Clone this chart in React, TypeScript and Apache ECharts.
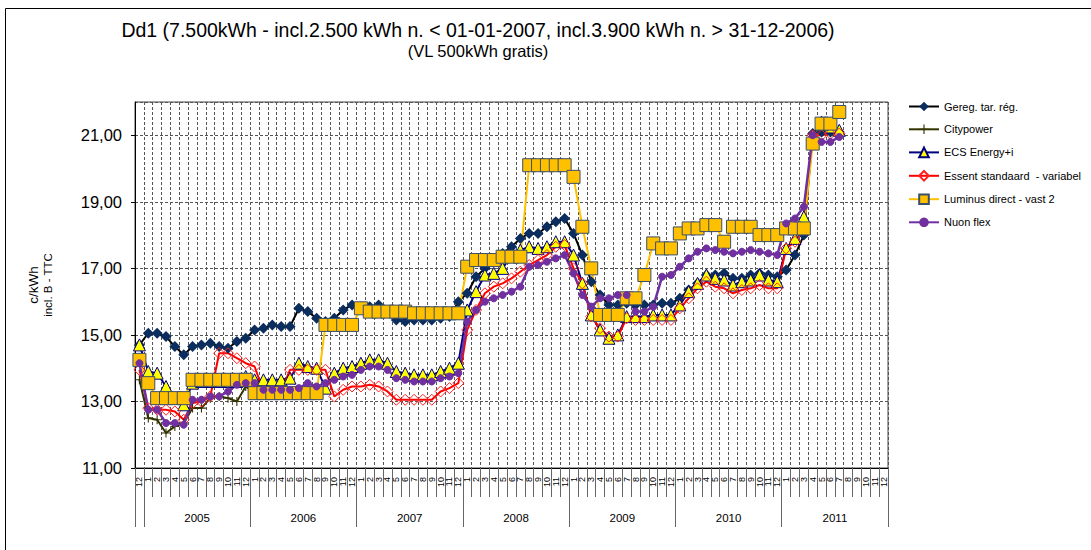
import React, { useEffect, useRef } from "react";
import * as echarts from "echarts";

// ---------- categories ----------
const FIRST_MONTH = "12"; // December 2004
const FIRST_YEAR = "2004";
const YEARS = ["2005", "2006", "2007", "2008", "2009", "2010", "2011"];
const MONTHS = ["1", "2", "3", "4", "5", "6", "7", "8", "9", "10", "11", "12"];

const monthCats: string[] = [FIRST_MONTH];
const yearCats: string[] = [FIRST_YEAR];
YEARS.forEach((y) => MONTHS.forEach((m) => { monthCats.push(m); yearCats.push(y); }));

const _ = null;

// ---------- series values (c/kWh) ----------
const gereg = [
  14.7, 15.05, 15.05, 14.95, 14.65, 14.4, 14.65, 14.7, 14.75, 14.65, 14.6, 14.8, 14.9,
  15.15, 15.2, 15.3, 15.25, 15.25, 15.8, 15.7, 15.5, 15.4, 15.5, 15.75, 15.9,
  15.85, 15.85, 15.9, 15.7, 15.45, 15.4, 15.45, 15.45, 15.45, 15.5, 15.55, 16.0,
  16.25, 16.75, 17.0, 17.25, 17.45, 17.65, 17.9, 18.05, 18.05, 18.25, 18.4, 18.5,
  18.05, 17.4, 16.6, 16.2, 15.9, 15.9, 15.95, 15.9, 15.9, 15.9, 15.95, 15.95,
  16.1, 16.35, 16.55, 16.8, 16.8, 16.85, 16.7, 16.7, 16.8, 16.85, 16.8, 16.75,
  16.95, 17.4, 18.0, 21.05, 21.1, 21.1, 21.1, _, _, _, _, _,
];

const citypower = [
  13.65, 12.5, 12.45, 12.05, 12.25, 12.35, 12.8, 12.8, 13.1, 13.15, 13.1, 13.0, 13.45,
  13.25, 13.25, 13.25, 13.25, 13.25, 13.25, 13.25, 13.25, _, _, _, _,
  _, _, _, _, _, _, _, _, _, _, _, _,
  _, _, _, _, _, _, _, _, _, _, _, _,
  _, _, _, _, _, _, _, _, _, _, _, _,
  _, _, _, _, _, _, _, _, _, _, _, _,
  _, _, _, _, _, _, _, _, _, _, _, _,
];

const ecs = [
  14.7, 13.9, 13.85, 13.45, 13.1, 12.9, 13.55, 13.6, 13.6, 13.6, 13.6, 13.6, 13.75,
  13.65, 13.65, 13.65, 13.65, 13.7, 14.15, 14.05, 14.0, 13.4, 13.85, 14.0, 14.05,
  14.15, 14.25, 14.25, 14.15, 13.9, 13.85, 13.8, 13.8, 13.8, 13.9, 14.0, 14.15,
  15.75, 16.3, 16.8, 16.85, 17.0, 17.4, 17.55, 17.65, 17.6, 17.65, 17.8, 17.8,
  17.4, 16.55, 15.6, 15.15, 14.9, 15.0, 15.55, 15.55, 15.55, 15.6, 15.6, 15.6,
  15.9, 16.3, 16.55, 16.8, 16.7, 16.65, 16.5, 16.6, 16.65, 16.8, 16.65, 16.6,
  17.6, 17.9, 18.55, 21.0, 21.4, 21.25, 21.15, _, _, _, _, _,
];

const essent = [
  13.95, 12.8, 12.75, 12.75, 12.7, 12.45, 12.95, 13.0, 13.15, 14.45, 14.45, 14.3, 14.15,
  14.05, 13.3, 13.3, 13.3, 13.95, 13.95, 13.95, 13.95, 13.95, 13.15, 13.35, 13.45,
  13.45, 13.5, 13.45, 13.3, 13.05, 13.05, 13.05, 13.05, 13.05, 13.3, 13.4, 13.55,
  15.15, 15.75, 16.25, 16.45, 16.55, 16.7, 16.9, 17.1, 17.25, 17.4, 17.65, 17.7,
  17.0, 16.55, 15.55, 15.2, 14.95, 14.95, 15.5, 15.45, 15.45, 15.45, 15.45, 15.45,
  15.8, 16.1, 16.4, 16.6, 16.45, 16.4, 16.25, 16.35, 16.4, 16.5, 16.4, 16.4,
  17.6, 17.8, 18.2, 21.0, 21.0, 21.05, 21.05, _, _, _, _, _,
];

const luminus = [
  14.25, 13.55, 13.1, 13.1, 13.1, 13.1, 13.65, 13.65, 13.65, 13.65, 13.65, 13.65, 13.65,
  13.25, 13.25, 13.25, 13.25, 13.25, 13.25, 13.25, 13.25, 15.3, 15.3, 15.3, 15.3,
  15.8, 15.7, 15.7, 15.7, 15.7, 15.7, 15.65, 15.65, 15.65, 15.65, 15.65, 15.65,
  17.05, 17.25, 17.25, 17.25, 17.35, 17.35, 17.35, 20.1, 20.1, 20.1, 20.1, 20.1,
  19.75, 18.25, 17.0, 15.6, 15.6, 15.6, 16.1, 16.1, 16.8, 17.75, 17.6, 17.6,
  18.05, 18.2, 18.2, 18.3, 18.3, 17.8, 18.25, 18.25, 18.25, 18.0, 18.0, 18.0,
  18.2, 18.2, 18.2, 20.75, 21.35, 21.35, 21.7, _, _, _, _, _,
];

const nuon = [
  14.15, 12.75, 12.75, 12.35, 12.35, 12.3, 13.05, 13.05, 13.15, 13.15, 13.3, 13.5, 13.55,
  13.55, 13.35, 13.35, 13.35, 13.35, 13.4, 13.55, 13.45, 13.55, 13.65, 13.75, 13.8,
  13.95, 14.05, 14.05, 13.95, 13.7, 13.65, 13.6, 13.6, 13.6, 13.7, 13.75, 13.85,
  15.4, 15.75, 16.0, 16.1, 16.2, 16.3, 16.45, 17.05, 17.1, 17.2, 17.3, 17.4,
  16.85, 16.2, 15.85, 16.1, 16.1, 16.2, 16.2, 15.7, 15.7, 15.85, 16.75, 16.8,
  17.05, 17.3, 17.5, 17.6, 17.55, 17.5, 17.45, 17.5, 17.55, 17.5, 17.45, 17.4,
  18.35, 18.5, 18.85, 21.0, 20.8, 20.8, 20.95, _, _, _, _, _,
];

const SERIES_NAMES = [
  "Gereg. tar. rég.",
  "Citypower",
  "ECS Energy+i",
  "Essent standaard  - variabel",
  "Luminus direct - vast 2",
  "Nuon flex",
];

const Y_TICKS_MIN = 11;
const Y_TICKS_MAX = 22;
const Y_STEP = 2;

const TITLE = "Dd1 (7.500kWh - incl.2.500 kWh n. < 01-01-2007, incl.3.900 kWh n. > 31-12-2006)";
const SUBTITLE = "(VL 500kWh gratis)";

const PLUS = "path://M4.4,0h1.2v4.4h4.4v1.2h-4.4v4.4h-1.2v-4.4h-4.4v-1.2h4.4z";
const FONT = "Liberation Sans, Arial, sans-serif";

export default function App() {
  const ref = useRef<HTMLDivElement>(null);

  useEffect(() => {
    if (!ref.current) return;
    const chart = echarts.init(ref.current, undefined, { renderer: "svg" });

    const base = (name: string, data: any[], extra: any) => ({
      name,
      type: "line",
      data,
      connectNulls: false,
      ...extra,
    });

    chart.setOption({
      animation: false,
      backgroundColor: "#ffffff",
      textStyle: { fontFamily: FONT, color: "#000" },
      title: {
        text: TITLE,
        subtext: SUBTITLE,
        left: 473,
        top: 15,
        textAlign: "center",
        itemGap: 2,
        textStyle: { fontSize: 19.5, fontWeight: "normal", color: "#000", fontFamily: FONT },
        subtextStyle: { fontSize: 16.5, color: "#000", fontFamily: FONT },
      },
      graphic: [
        {
          type: "rect",
          silent: true,
          shape: { x: 5.5, y: 8.5, width: 1200, height: 700 },
          style: { fill: "none", stroke: "#000", lineWidth: 1 },
        },
      ],
      legend: {
        orient: "vertical",
        left: 903,
        top: 96,
        itemWidth: 30,
        itemHeight: 12,
        itemGap: 11.8,
        textStyle: { fontSize: 11, color: "#000", fontFamily: FONT },
        data: SERIES_NAMES,
      },
      grid: {
        left: 135,
        right: 203,
        top: 102,
        bottom: 82,
        show: true,
        borderColor: "#444",
        borderWidth: 1,
        backgroundColor: "transparent",
      },
      xAxis: [
        {
          type: "category",
          data: monthCats,
          boundaryGap: true,
          position: "bottom",
          axisLine: { lineStyle: { color: "#000", width: 1 } },
          axisTick: { show: true, interval: 0, length: 29, lineStyle: { color: "#666" } },
          axisLabel: { interval: 0, rotate: 90, fontSize: 9, margin: 9, color: "#000", fontFamily: FONT },
          splitLine: { show: true, interval: 0, lineStyle: { color: "#555", type: [3, 2], width: 1 } },
        },
        {
          type: "category",
          data: yearCats,
          boundaryGap: true,
          position: "bottom",
          axisLine: { show: false },
          axisTick: {
            show: true,
            length: 59,
            interval: (i: number) => i === 0 || i % 12 === 1,
            lineStyle: { color: "#666" },
          },
          axisLabel: {
            interval: (i: number) => i > 0 && i % 12 === 6,
            margin: 44,
            fontSize: 11.5,
            padding: [0, 0, 0, 9],
            color: "#000",
            fontFamily: FONT,
          },
          splitLine: { show: false },
        },
      ],
      yAxis: {
        type: "value",
        min: Y_TICKS_MIN,
        max: Y_TICKS_MAX,
        interval: Y_STEP,
        axisLine: { show: true, lineStyle: { color: "#000" } },
        axisTick: { show: true, length: 4, lineStyle: { color: "#000" } },
        axisLabel: {
          showMaxLabel: false,
          formatter: (v: number) => (v >= Y_TICKS_MAX ? "" : v.toFixed(2).replace(".", ",")),
          fontSize: 16.5,
          margin: 13,
          color: "#000",
          fontFamily: FONT,
        },
        splitLine: { show: true, lineStyle: { color: "#555", type: [3, 2], width: 1 } },
        name: "{a|c/kWh}\n{b|incl. B - TTC}",
        nameLocation: "middle",
        nameRotate: 90,
        nameGap: 80,
        nameTextStyle: {
          color: "#000",
          fontFamily: FONT,
          align: "center",
          rich: {
            a: { fontSize: 13.5, fontFamily: FONT, color: "#000", lineHeight: 16 },
            b: { fontSize: 11.5, fontFamily: FONT, color: "#000", lineHeight: 14 },
          },
        },
      },
      series: [
        base(SERIES_NAMES[0], gereg, {
          symbol: "diamond",
          symbolSize: 11,
          lineStyle: { color: "#000000", width: 2 },
          itemStyle: { color: "#0b2e5f", borderColor: "#0b2e5f", borderWidth: 0 },
        }),
        base(SERIES_NAMES[1], citypower, {
          symbol: PLUS,
          symbolSize: 9,
          lineStyle: { color: "#333300", width: 2 },
          itemStyle: { color: "#333300" },
        }),
        base(SERIES_NAMES[2], ecs, {
          symbol: "triangle",
          symbolSize: 12,
          lineStyle: { color: "#000080", width: 2 },
          itemStyle: { color: "#ffff00", borderColor: "#000080", borderWidth: 1 },
        }),
        base(SERIES_NAMES[3], essent, {
          symbol: "diamond",
          symbolSize: 11,
          lineStyle: { color: "#ff0000", width: 2 },
          itemStyle: { color: "rgba(255,255,255,0)", borderColor: "#ff2020", borderWidth: 1 },
        }),
        base(SERIES_NAMES[4], luminus, {
          symbol: "rect",
          symbolSize: 13,
          lineStyle: { color: "#ffc000", width: 2 },
          itemStyle: { color: "#ffc000", borderColor: "#3b4f68", borderWidth: 1 },
        }),
        base(SERIES_NAMES[5], nuon, {
          symbol: "circle",
          symbolSize: 7,
          lineStyle: { color: "#7030a0", width: 2.5 },
          itemStyle: { color: "#7030a0", borderColor: "#7030a0" },
        }),
      ],
    });

    return () => chart.dispose();
  }, []);

  return (
    <div
      ref={ref}
      style={{ position: "absolute", left: 0, top: 0, width: 1091, height: 550, background: "#fff" }}
    />
  );
}
